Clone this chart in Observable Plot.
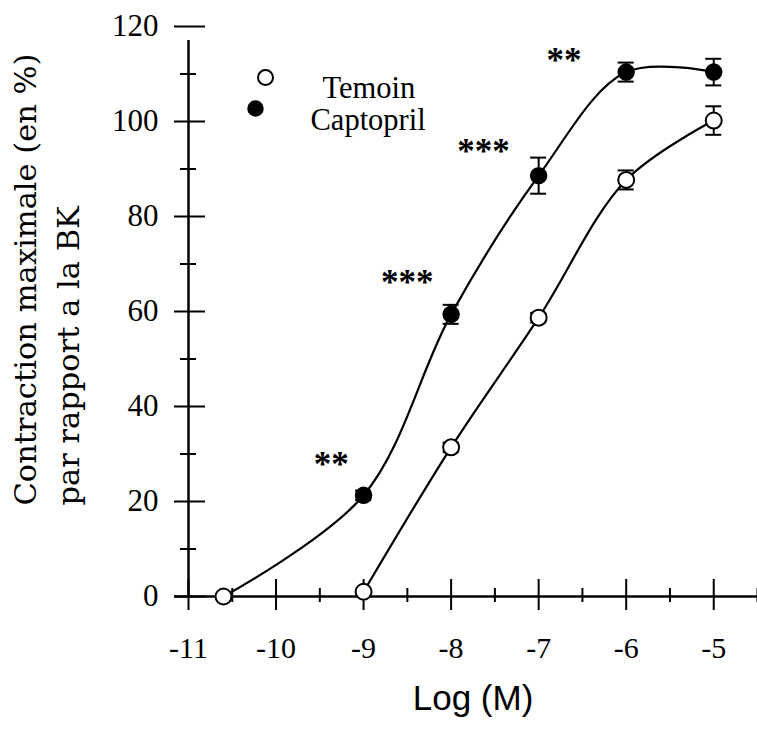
<!DOCTYPE html>
<html><head><meta charset="utf-8">
<script src="https://cdn.jsdelivr.net/npm/d3@7"></script>
<script src="https://cdn.jsdelivr.net/npm/@observablehq/plot@0.6"></script>
<style>body{margin:0;background:#fff}</style>
</head><body><div id="chart"></div>
<script>
const doses = [-9, -8, -7, -6, -5];
const temoin = [1, 31.4, 58.7, 87.7, 100.2];
const temoinErr = [0.5, 1, 1, 2, 3];
const captopril = [21.3, 59.4, 88.6, 110.4, 110.4];
const captoprilErr = [1, 2, 3.8, 2, 2.8];
const baselineDose = -10.6;
const baselineValue = 0;
const sigDoses = [-9.37, -8.5, -7.63, -6.71];
const sigValues = [29.3, 67.6, 95, 114.3];
const sigLabels = ["**", "***", "***", "**"];
const xMajorTicks = [-11, -10, -9, -8, -7, -6, -5];
const xTickLabels = ["-11", "-10", "-9", "-8", "-7", "-6", "-5"];
const xMinorTicks = [-10.5, -9.5, -8.5, -7.5, -6.5, -5.5, -4.5];
const yMajorTicks = [0, 20, 40, 60, 80, 100, 120];
const yTickLabels = ["0", "20", "40", "60", "80", "100", "120"];
const yMinorTicks = [10, 30, 50, 70, 90, 110];
const seriesNames = ["Temoin", "Captopril"];
const xTitle = "Log (M)";
const yTitleLines = ["Contraction maximale (en %)", "par rapport a la BK"];
const xDomain = [-11, -4.5];
const yDomain = [0, 120];

const serif = "'Liberation Serif', 'Times New Roman', serif";
const capData = doses.map((x, i) => ({x, y: captopril[i], e: captoprilErr[i]}));
const temData = doses.map((x, i) => ({x, y: temoin[i], e: temoinErr[i]}));
const base = {x: baselineDose, y: baselineValue};
const capLine = [base, ...capData];
const temDots = [base, ...temData];
const sig = sigDoses.map((x, i) => ({x, y: sigValues[i], t: sigLabels[i]}));

const chart = Plot.plot({
  width: 757, height: 732,
  marginLeft: 188, marginRight: 0, marginTop: 26, marginBottom: 136,
  x: {domain: xDomain, axis: null},
  y: {domain: yDomain, axis: null},
  style: {background: "white", color: "black"},
  marks: [
    // axis lines
    Plot.ruleY([yDomain[0]], {x1: xDomain[0], x2: xDomain[1], insetLeft: -14, strokeWidth: 2.5}),
    Plot.ruleX([xDomain[0]], {y1: yDomain[0], y2: yDomain[1], insetBottom: -14, strokeWidth: 2.5}),
    // x ticks
    Plot.ruleX(xMajorTicks, {x: d => d, y1: yDomain[0], y2: yDomain[0], insetTop: -17, insetBottom: -14, strokeWidth: 2}),
    Plot.ruleX(xMinorTicks, {x: d => d, y1: yDomain[0], y2: yDomain[0], insetTop: -8, insetBottom: -6, strokeWidth: 2}),
    // y ticks
    Plot.ruleY(yMajorTicks, {y: d => d, x1: xDomain[0], x2: xDomain[0], insetLeft: -14, insetRight: -17, strokeWidth: 2}),
    Plot.ruleY(yMinorTicks, {y: d => d, x1: xDomain[0], x2: xDomain[0], insetLeft: -8, insetRight: -8, strokeWidth: 2}),
    // tick labels
    Plot.text(xMajorTicks, {x: d => d, y: yDomain[0], text: (d, i) => xTickLabels[i], dy: 52, fontSize: 30, fontFamily: serif}),
    Plot.text(yMajorTicks, {x: xDomain[0], y: d => d, text: (d, i) => yTickLabels[i], textAnchor: "end", dx: -30, fontSize: 31, fontFamily: serif}),
    // titles
    Plot.text([xTitle], {frameAnchor: "bottom", text: d => d, dy: 113, fontSize: 35, fontFamily: "'Liberation Sans', Arial, sans-serif"}),
    Plot.text([yTitleLines.join("\n")], {frameAnchor: "left", text: d => d, rotate: -90, textAnchor: "start", lineAnchor: "middle", lineHeight: 1.4, dx: -145, dy: 194, fontSize: 30.5, fontFamily: "'DejaVu Serif', serif"}),
    // curves
    Plot.line(capLine, {x: "x", y: "y", curve: "catmull-rom", strokeWidth: 2.2}),
    Plot.line(temData, {x: "x", y: "y", curve: "catmull-rom", strokeWidth: 2.2}),
    // error bars
    Plot.ruleX(capData, {x: "x", y1: d => d.y - d.e, y2: d => d.y + d.e, strokeWidth: 2}),
    Plot.ruleY(capData, {y: d => d.y + d.e, x1: "x", x2: "x", insetLeft: -8, insetRight: -8, strokeWidth: 2}),
    Plot.ruleY(capData, {y: d => d.y - d.e, x1: "x", x2: "x", insetLeft: -8, insetRight: -8, strokeWidth: 2}),
    Plot.ruleX(temData, {x: "x", y1: d => d.y - d.e, y2: d => d.y + d.e, strokeWidth: 2}),
    Plot.ruleY(temData, {y: d => d.y + d.e, x1: "x", x2: "x", insetLeft: -8, insetRight: -8, strokeWidth: 2}),
    Plot.ruleY(temData, {y: d => d.y - d.e, x1: "x", x2: "x", insetLeft: -8, insetRight: -8, strokeWidth: 2}),
    // dots
    Plot.dot(capData, {x: "x", y: "y", r: 8, fill: "black", stroke: "black", strokeWidth: 1.5}),
    Plot.dot(temDots, {x: "x", y: "y", r: 8, fill: "white", stroke: "black", strokeWidth: 2}),
    // significance
    Plot.text(sig, {x: "x", y: "y", text: "t", dy: 7, fontSize: 35, fontWeight: "bold", fontFamily: serif}),
    // legend
    Plot.dot([seriesNames[0]], {frameAnchor: "top-left", dx: 77, dy: 51, r: 7.5, fill: "white", stroke: "black", strokeWidth: 2}),
    Plot.dot([seriesNames[1]], {frameAnchor: "top-left", dx: 67, dy: 82, r: 7.5, fill: "black", stroke: "black"}),
    Plot.text([seriesNames[0]], {frameAnchor: "top-left", text: d => d, textAnchor: "start", dx: 134, dy: 49.5, fontSize: 30.5, fontFamily: serif}),
    Plot.text([seriesNames[1]], {frameAnchor: "top-left", text: d => d, textAnchor: "start", dx: 122, dy: 81.5, fontSize: 30.5, fontFamily: serif})
  ]
});
document.getElementById("chart").appendChild(chart);
</script>
</body></html>
